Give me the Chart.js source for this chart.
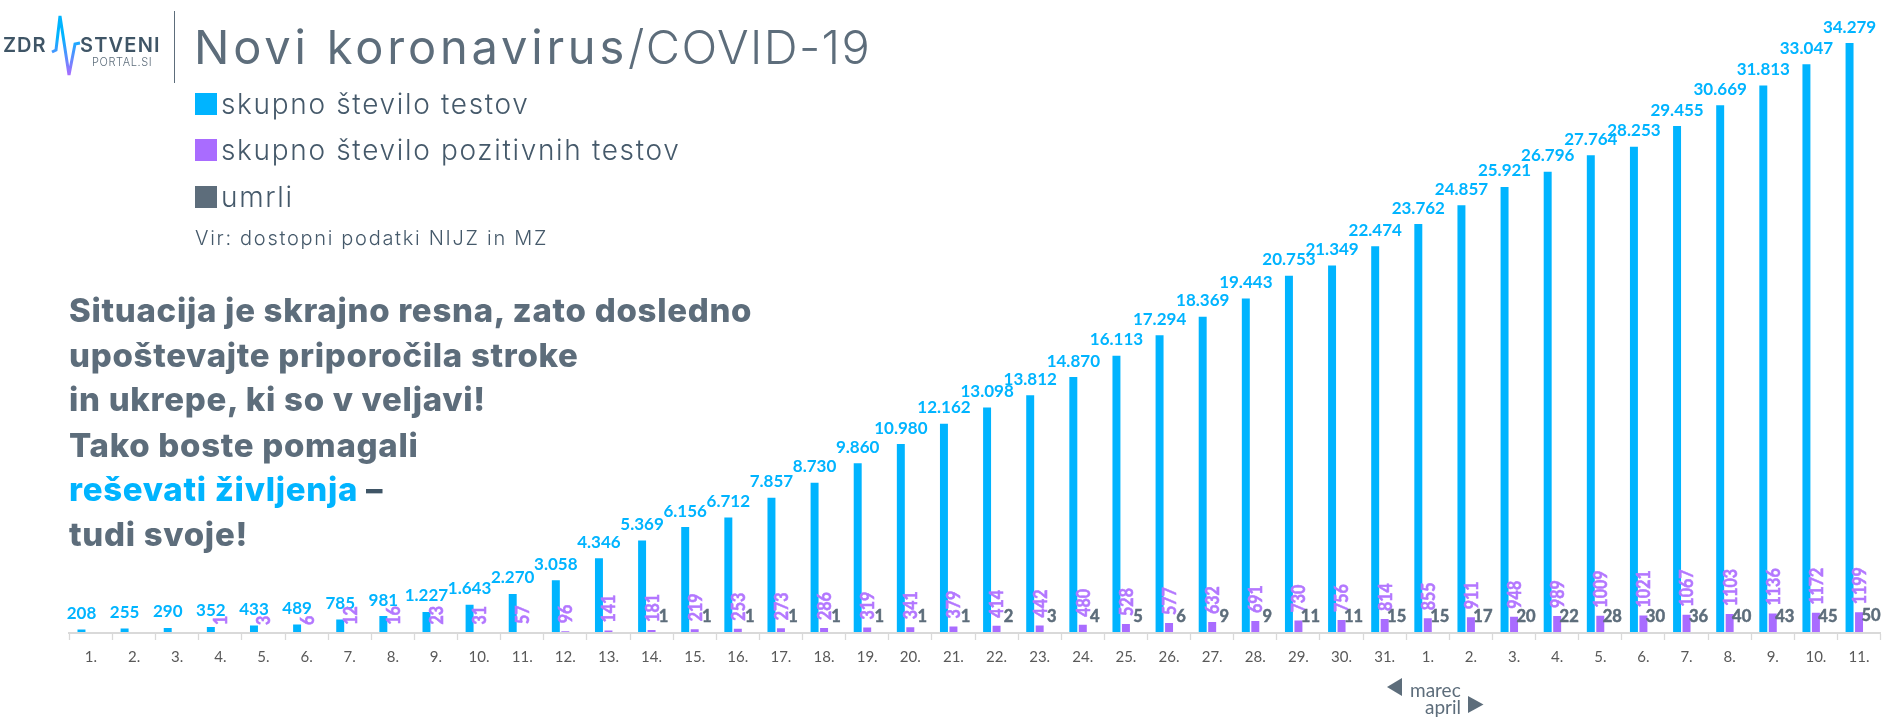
<!DOCTYPE html>
<html>
<head>
<meta charset="utf-8">
<title>Novi koronavirus/COVID-19</title>
<script src="https://cdn.jsdelivr.net/npm/chart.js@4/dist/chart.umd.min.js"></script>
<style>
html, body { margin: 0; padding: 0; background: #fff; }
#wrap { position: relative; width: 1890px; height: 720px; overflow: hidden; font-family: Inter, sans-serif; color: #5d6d7b; }
#chart { position: absolute; left: 0; top: 0; }
.t { position: absolute; white-space: nowrap; line-height: 1; }
.sq { position: absolute; left: 195px; width: 22px; height: 22px; }
.lg { left: 221px; font-size: 28px; font-weight: 300; color: #45596a; letter-spacing: 1.67px; }
.big { font-weight: 800; font-size: 33px; left: 69px; letter-spacing: 0.7px; }
svg { position: absolute; left: 0; top: 0; }
</style>
</head>
<body>
<div id="wrap">
  <canvas id="chart" width="1890" height="720"></canvas>

  <svg width="1890" height="720">
    <defs>
      <linearGradient id="pulse" x1="0" y1="0" x2="0" y2="1">
        <stop offset="0.35" stop-color="#00b4ff"/>
        <stop offset="1" stop-color="#a96cff"/>
      </linearGradient>
    </defs>
    <polyline points="52,52 56,50 60,16 69,75 75,44 80,43" fill="none" stroke="url(#pulse)" stroke-width="3"/>
    <line x1="174.5" y1="11" x2="174.5" y2="83" stroke="#5d6d7b" stroke-width="1"/>
    <polygon points="1402,678 1402,696 1387,687" fill="#5d6d7b"/>
    <polygon points="1468,696 1468,713 1483.5,704.5" fill="#5d6d7b"/>
  </svg>

  <div class="t" style="left:3px;top:35px;font-size:20px;font-weight:600;color:#3f5566;letter-spacing:1px">ZDR</div>
  <div class="t" style="left:80px;top:35px;font-size:20px;font-weight:600;color:#3f5566;letter-spacing:1.2px">STVENI</div>
  <div class="t" style="left:92px;top:57px;font-size:11px;font-weight:300;color:#5d6d7b;letter-spacing:0.6px">PORTAL.SI</div>

  <div class="t" style="left:194px;top:23px;font-size:47px;letter-spacing:3.8px"><span>Novi koronavirus</span><span style="font-weight:300;letter-spacing:1.4px">/COVID-19</span></div>

  <div class="sq" style="top:93px;background:#00b4ff"></div>
  <div class="t lg" style="top:90px">skupno število testov</div>
  <div class="sq" style="top:139px;background:#a96cff"></div>
  <div class="t lg" style="top:136px">skupno število pozitivnih testov</div>
  <div class="sq" style="top:186px;background:#5d6d7b"></div>
  <div class="t lg" style="top:183px">umrli</div>
  <div class="t" style="left:195px;top:228px;font-size:20px;font-weight:300;color:#45596a;letter-spacing:1.7px">Vir: dostopni podatki NIJZ in MZ</div>

  <div class="t big" style="top:294px">Situacija je skrajno resna, zato dosledno</div>
  <div class="t big" style="top:339px">upoštevajte priporočila stroke</div>
  <div class="t big" style="top:383px">in ukrepe, ki so v veljavi!</div>
  <div class="t big" style="top:429px">Tako boste pomagali</div>
  <div class="t big" style="top:473px"><span style="color:#00b4ff">reševati življenja</span> <span style="color:#3f5566">–</span></div>
  <div class="t big" style="top:518px">tudi svoje!</div>

  <div class="t" style="left:1410px;top:680px;font-size:19px;font-family:Lato">marec</div>
  <div class="t" style="left:1425px;top:697px;font-size:19px;font-family:Lato">april</div>
</div>

<script>
const days = ["1.","2.","3.","4.","5.","6.","7.","8.","9.","10.","11.","12.","13.","14.","15.","16.","17.","18.","19.","20.","21.","22.","23.","24.","25.","26.","27.","28.","29.","30.","31.",
              "1.","2.","3.","4.","5.","6.","7.","8.","9.","10.","11."];

const tests = [208,255,290,352,433,489,785,981,1227,1643,2270,3058,4346,5369,6156,6712,7857,8730,9860,10980,12162,13098,13812,14870,16113,17294,18369,19443,20753,21349,22474,
               23762,24857,25921,26796,27764,28253,29455,30669,31813,33047,34279];

const positive = [null,null,null,1,3,6,12,16,23,31,57,96,141,181,219,253,273,286,319,341,379,414,442,480,528,577,632,691,730,756,814,
                  855,911,948,989,1009,1021,1067,1103,1136,1172,1199];

const deaths = [null,null,null,null,null,null,null,null,null,null,null,null,null,1,1,1,1,1,1,1,1,2,3,4,5,6,9,9,11,11,15,
                15,17,20,22,28,30,36,40,43,45,50];

// no datalabels plugin available, so the value labels are drawn here
const valueLabels = {
    id: 'valueLabels',
    afterDatasetsDraw(chart) {
        const ctx = chart.ctx;
        ctx.save();
        ctx.font = 'bold 17px Lato';
        ctx.fillStyle = '#00b4ff';
        ctx.textAlign = 'center';
        ctx.textBaseline = 'middle';
        chart.getDatasetMeta(0).data.forEach(function(bar, i) {
            ctx.fillText(tests[i].toLocaleString('de-DE'), bar.x, bar.y - 16);
        });

        // thin stroke, the small labels are heavier in the original
        ctx.lineWidth = 0.5;
        ctx.font = 'bold 16px Lato';
        ctx.fillStyle = '#b377ff';
        ctx.strokeStyle = '#b377ff';
        ctx.textAlign = 'left';
        chart.getDatasetMeta(1).data.forEach(function(bar, i) {
            if (positive[i] === null) return;
            ctx.save();
            ctx.translate(bar.x + 1, bar.y - 8);
            ctx.rotate(-Math.PI / 2);
            ctx.scale(1, 1.15);
            ctx.fillText(String(positive[i]), 0, 0);
            ctx.strokeText(String(positive[i]), 0, 0);
            ctx.restore();
        });

        ctx.font = 'bold 16.5px Lato';
        ctx.fillStyle = '#5d6d7b';
        ctx.strokeStyle = '#5d6d7b';
        ctx.textAlign = 'center';
        chart.getDatasetMeta(2).data.forEach(function(bar, i) {
            if (deaths[i] === null) return;
            ctx.fillText(String(deaths[i]), bar.x + 2.5, bar.y - 16);
            ctx.strokeText(String(deaths[i]), bar.x + 2.5, bar.y - 16);
        });
        ctx.restore();
    }
};

const chart = new Chart(document.getElementById('chart').getContext('2d'), {
    type: 'bar',
    data: {
        labels: days,
        datasets: [
            { label: 'skupno število testov', data: tests, backgroundColor: '#00b4ff' },
            { label: 'skupno število pozitivnih testov', data: positive, backgroundColor: '#a96cff' },
            { label: 'umrli', data: deaths, backgroundColor: '#5d6d7b' }
        ]
    },
    options: {
        responsive: false,
        animation: false,
        layout: { padding: { left: 69.4, right: 9.4, top: 0, bottom: 0 } },
        datasets: { bar: { categoryPercentage: 0.66, barPercentage: 0.84 } },
        plugins: { legend: { display: false }, tooltip: { enabled: false } },
        scales: {
            x: {
                afterFit: function(scale) { scale.height = 87; },
                grid: { drawOnChartArea: false, tickColor: '#d9d9d9', tickLength: 7, tickWidth: 1.3, z: 1 },
                border: { color: '#d9d9d9', width: 2, z: 1 },
                ticks: { color: '#595959', font: { family: 'Lato', size: 15 }, padding: 8, autoSkip: false, maxRotation: 0 }
            },
            y: { display: false, min: 0, max: 36780 }
        }
    },
    plugins: [valueLabels]
});
</script>
</body>
</html>
